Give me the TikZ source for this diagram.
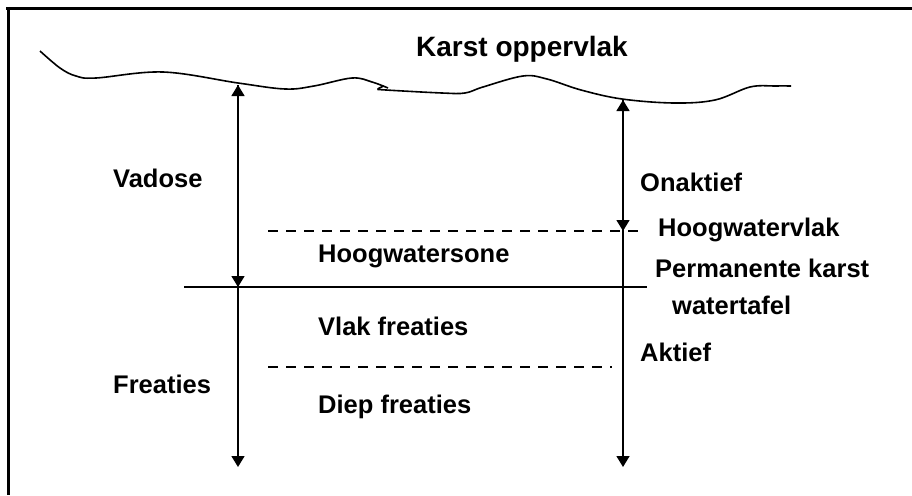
\documentclass[tikz,border=0pt]{standalone}
\usepackage{fontspec}
\setmainfont{Liberation Sans}
\usetikzlibrary{arrows.meta}
\tikzset{
  lbl/.style={anchor=west, inner sep=0pt, font=\fontsize{25.5}{28}\selectfont\bfseries},
  ttl/.style={anchor=center, inner sep=0pt, font=\fontsize{28}{30}\selectfont\bfseries},
  vline/.style={line width=1.5pt, -{Triangle[length=11pt,width=13pt]}},
  hline/.style={line width=1.5pt},
  dline/.style={line width=1.3pt, dash pattern=on 10pt off 8pt},
  frame/.style={line width=2.5pt},
  surf/.style={line width=1.6pt}
}
\begin{document}
\begin{tikzpicture}[x=1pt,y=-1pt]
\useasboundingbox (0,0) rectangle (912,495);
% frame
\coordinate (f1) at (6,8.5);
\coordinate (f2) at (912,8.5);
\coordinate (f3) at (8.5,7);
\coordinate (f4) at (8.5,495);
\draw[frame] (f1) -- (f2);
\draw[frame] (f3) -- (f4);
% surface
\draw[surf] plot[smooth, tension=0.6] coordinates {(40,51) (60,68) (76,76) (96,78) (163,72) (238,83) (285,89) (314,86) (352,78) (372,82) (388,88)};
\draw[surf] plot[smooth, tension=0.6] coordinates {(384,86) (378,89) (386,90) (442,93) (465,93) (483,87) (523,76) (547,79) (581,90) (622,99) (674,103) (715,100) (750,87) (775,86) (791,86)};
% coordinates
\coordinate (L1) at (238,85);
\coordinate (L2) at (238,287);
\coordinate (L3) at (238,467);
\coordinate (R1) at (623,100);
\coordinate (R2) at (623,231);
\coordinate (R3) at (623,467);
\coordinate (S1) at (184,287);
\coordinate (S2) at (647,287);
\coordinate (D1) at (268,231);
\coordinate (D2) at (645,231);
\coordinate (E1) at (268,367);
\coordinate (E2) at (612,367);
% vertical arrows
\draw[vline] (L2) -- (L1);
\draw[vline] (L1) -- (L2);
\draw[vline] (L2) -- (L3);
\draw[vline] (R2) -- (R1);
\draw[vline] (R1) -- (R2);
\draw[vline] (R2) -- (R3);
% horizontal lines
\draw[hline] (S1) -- (S2);
\draw[dline] (D1) -- (D2);
\draw[dline] (E1) -- (E2);
% texts
\node[ttl] (karst) at (522,49) {Karst oppervlak};
\node[lbl] (vadose) at (113,178) {Vadose};
\node[lbl] (onaktief) at (640,182) {Onaktief};
\node[lbl] (hwvlak) at (658,230) {Hoogwatervlak};
\node[lbl] (hwsone) at (318,256) {Hoogwatersone};
\node[lbl] (perm) at (655,268) {Permanente karst};
\node[lbl] (wtafel) at (672,305) {watertafel};
\node[lbl] (vlak) at (318,326) {Vlak freaties};
\node[lbl] (aktief) at (640,352) {Aktief};
\node[lbl] (freaties) at (113,384) {Freaties};
\node[lbl] (diep) at (318,407) {Diep freaties};
\end{tikzpicture}
\end{document}
